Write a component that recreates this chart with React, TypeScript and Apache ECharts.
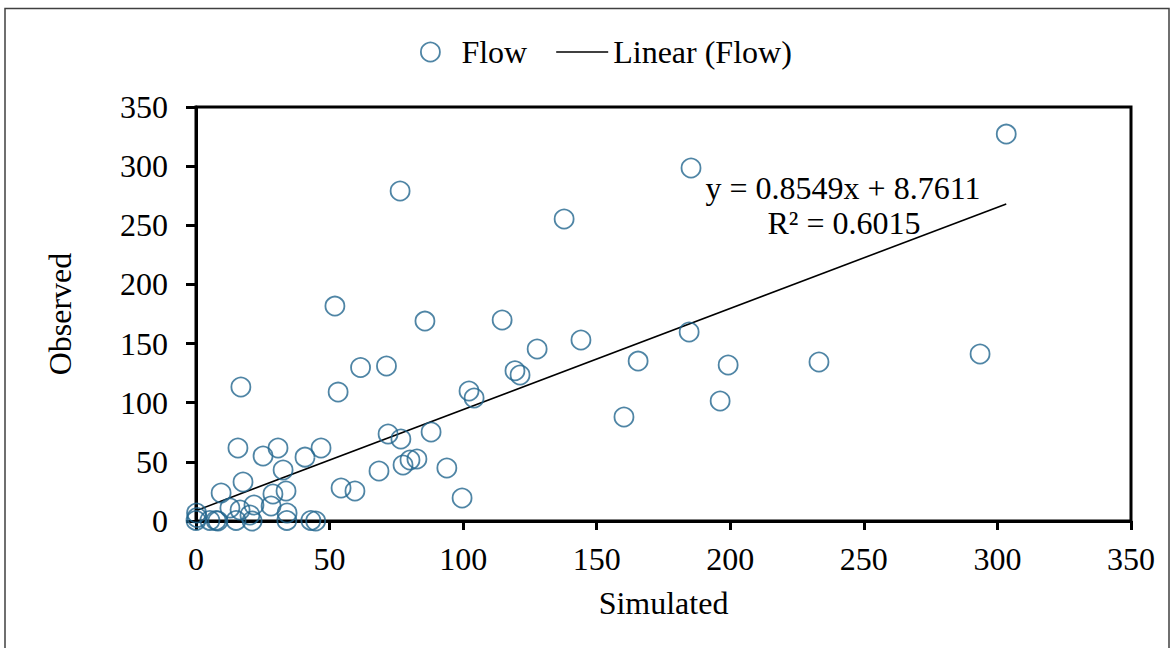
import React, { useEffect, useRef } from "react";
import * as echarts from "echarts";

// Simulated (x) vs Observed (y) flow values
const simulated: number[] = [
  303.3, 185.3, 76.4, 137.8, 52.0, 114.6, 85.7, 144.1, 184.6, 127.7,
  165.5, 199.2, 233.2, 293.5, 61.6, 71.3, 16.8, 53.2, 102.2, 104.1,
  119.4, 121.3, 160.2, 196.2, 71.9, 76.7, 88.0, 68.5, 77.5, 80.1,
  82.7, 93.9, 99.6, 59.5, 54.3, 15.7, 25.1, 30.7, 40.8, 46.8,
  32.6, 17.6, 9.4, 28.8, 33.7, 21.7, 28.1, 12.7, 16.5, 20.2,
  34.1, 0.2, 0.4, 0.0, 5.2, 7.5, 8.2, 15.0, 21.0, 34.0,
  43.0, 44.8,
];
const observed: number[] = [
  327.1, 298.4, 279.0, 255.3, 181.7, 169.9, 169.0, 153.0, 159.8, 145.4,
  135.2, 131.9, 134.4, 141.2, 129.8, 131.0, 113.3, 109.0, 109.9, 104.0,
  127.0, 123.4, 87.9, 101.4, 73.5, 69.3, 75.2, 42.3, 47.3, 51.6,
  52.4, 44.8, 19.4, 25.4, 27.9, 61.7, 54.9, 61.7, 54.0, 61.7,
  43.1, 33.0, 23.7, 22.8, 25.4, 13.5, 12.7, 11.0, 9.3, 5.1,
  6.8, 6.8, 3.0, 0.5, 0.5, 0.5, 0.0, 0.5, 0.0, 0.5,
  0.5, 0.0,
];

// Trendline from the reported regression
const slope = 0.8549;
const intercept = 8.7611;
const equationText = "y = 0.8549x + 8.7611";
const r2Text = "R² = 0.6015";

const axisTicks: number[] = [0, 50, 100, 150, 200, 250, 300, 350];
const seriesName = "Flow";
const trendName = "Linear (Flow)";
const xName = "Simulated";
const yName = "Observed";

const FONT = "'Liberation Serif', 'Times New Roman', serif";
const FS = 32;
const MARK = "#23668f";

export default function App() {
  const ref = useRef<HTMLDivElement | null>(null);

  useEffect(() => {
    if (!ref.current) return;
    const chart = echarts.init(ref.current, undefined, { renderer: "svg" });
    const pts = simulated.map((x, i) => [x, observed[i]]);
    const xMin = Math.min(...simulated);
    const xMax = Math.max(...simulated);
    const trend = [
      [xMin, slope * xMin + intercept],
      [xMax, slope * xMax + intercept],
    ];
    const axisMin = axisTicks[0];
    const axisMax = axisTicks[axisTicks.length - 1];
    const step = axisTicks[1] - axisTicks[0];

    chart.setOption({
      animation: false,
      backgroundColor: "#fff",
      textStyle: { fontFamily: FONT, color: "#000" },
      grid: {
        left: 196,
        top: 107,
        width: 935,
        height: 414,
        show: true,
        borderColor: "#000",
        borderWidth: 3,
        containLabel: false,
      },
      legend: {
        left: 415,
        top: 31,
        itemWidth: 52,
        itemHeight: 19,
        itemGap: 29,
        textStyle: { fontFamily: FONT, fontSize: FS, color: "#000" },
        data: [
          {
            name: seriesName,
            icon: "circle",
            itemStyle: { color: "#fff", borderColor: MARK, borderWidth: 1.8 },
          },
          {
            name: trendName,
            icon: "path://M0,0H52V1.6H0Z",
            itemStyle: { color: "#000", borderWidth: 0 },
          },
        ],
      },
      xAxis: {
        type: "value",
        min: axisMin,
        max: axisMax,
        interval: step,
        name: xName,
        nameLocation: "middle",
        nameGap: 66,
        nameTextStyle: { fontFamily: FONT, fontSize: FS, color: "#000" },
        axisLine: { show: true, lineStyle: { color: "#000", width: 3 } },
        axisTick: { show: true, inside: false, length: 9, lineStyle: { color: "#000", width: 3 } },
        axisLabel: { fontFamily: FONT, fontSize: FS, color: "#000", margin: 22 },
        splitLine: { show: false },
      },
      yAxis: {
        type: "value",
        min: axisMin,
        max: axisMax,
        interval: step,
        name: yName,
        nameLocation: "middle",
        nameGap: 120,
        nameRotate: 90,
        nameTextStyle: { fontFamily: FONT, fontSize: FS, color: "#000" },
        axisLine: { show: true, lineStyle: { color: "#000", width: 3 } },
        axisTick: { show: true, inside: false, length: 10, lineStyle: { color: "#000", width: 3 } },
        axisLabel: { fontFamily: FONT, fontSize: FS, color: "#000", margin: 28 },
        splitLine: { show: false },
      },
      series: [
        {
          name: seriesName,
          type: "scatter",
          data: pts,
          symbol: "circle",
          symbolSize: 19,
          itemStyle: { color: "rgba(255,255,255,0)", borderColor: MARK, borderWidth: 1.8 },
          z: 3,
        },
        {
          name: trendName,
          type: "line",
          data: trend,
          symbol: "none",
          showSymbol: false,
          lineStyle: { color: "#000", width: 1.6 },
          z: 2,
        },
      ],
      graphic: [
        {
          type: "rect",
          shape: { x: 5, y: 8.5, width: 1164, height: 700 },
          style: { fill: "none", stroke: "#404040", lineWidth: 1.5 },
          silent: true,
          z: -1,
        },
        {
          type: "text",
          x: 843,
          y: 188,
          style: {
            text: equationText,
            font: `${FS}px ${FONT}`,
            fill: "#000",
            textAlign: "center",
            textVerticalAlign: "middle",
          },
          z: 10,
        },
        {
          type: "text",
          x: 844,
          y: 223,
          style: {
            text: r2Text,
            font: `${FS}px ${FONT}`,
            fill: "#000",
            textAlign: "center",
            textVerticalAlign: "middle",
          },
          z: 10,
        },
      ],
    });

    return () => {
      chart.dispose();
    };
  }, []);

  return (
    <div
      ref={ref}
      style={{ position: "absolute", left: 0, top: 0, width: 1174, height: 648 }}
    />
  );
}
